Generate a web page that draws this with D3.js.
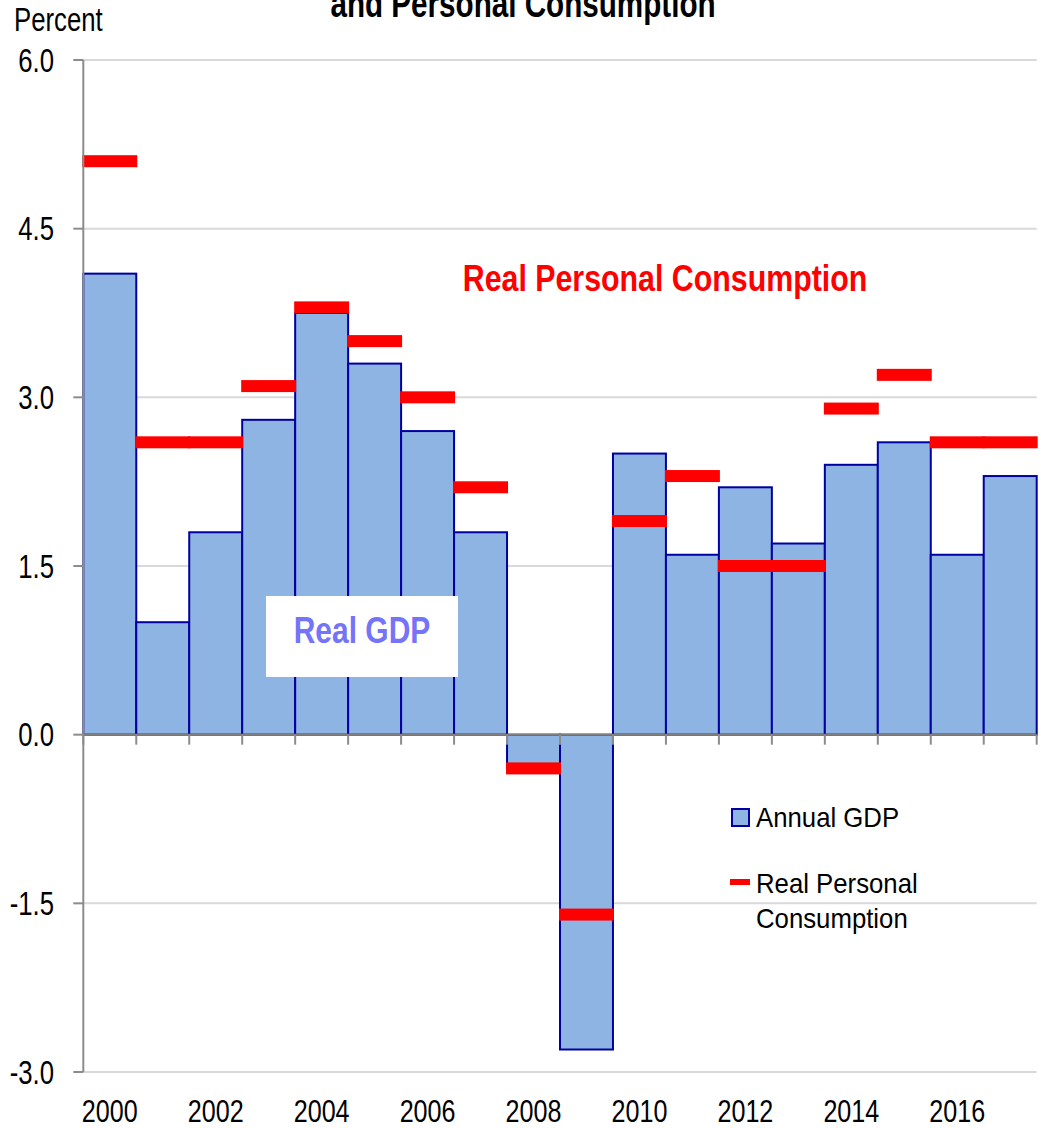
<!DOCTYPE html>
<html>
<head>
<meta charset="utf-8">
<script src="https://cdn.jsdelivr.net/npm/d3@7"></script>
<style>
  html, body { margin: 0; padding: 0; background: #fff; }
  svg { display: block; font-family: Arial, "Liberation Sans", sans-serif; }
</style>
</head>
<body>
<svg id="chart" width="1041" height="1128"></svg>
<script>
const years = [2000,2001,2002,2003,2004,2005,2006,2007,2008,2009,2010,2011,2012,2013,2014,2015,2016,2017];
const gdpGrowth = [4.1,1.0,1.8,2.8,3.75,3.3,2.7,1.8,-0.3,-2.8,2.5,1.6,2.2,1.7,2.4,2.6,1.6,2.3];
const consumptionGrowth = [5.1,2.6,2.6,3.1,3.8,3.5,3.0,2.2,-0.3,-1.6,1.9,2.3,1.5,1.5,2.9,3.2,2.6,2.6];
const yTicks = [-3.0,-1.5,0.0,1.5,3.0,4.5,6.0];
const xTickLabels = [2000,2002,2004,2006,2008,2010,2012,2014,2016];
const titleText = "and Personal Consumption";
const legendLabels = ["Annual GDP", ["Real Personal", "Consumption"]];

const svg = d3.select("#chart");
const plotLeft = 83.3, plotRight = 1036.7, plotTop = 60, plotBottom = 1072;

const x = d3.scaleBand().domain(years).range([plotLeft, plotRight]).padding(0);
const y = d3.scaleLinear().domain([-3, 6]).range([plotBottom, plotTop]);

function sText(parent, tx, ty, str, opts) {
  const g = parent.append("g").attr("transform", `translate(${tx},${ty}) scale(${opts.sx || 1},1)`);
  const t = g.append("text")
    .attr("x", 0).attr("y", 0)
    .attr("text-anchor", opts.anchor || "start")
    .attr("font-size", opts.size)
    .attr("font-weight", opts.weight || "normal")
    .attr("fill", opts.fill || "#000")
    .text(str);
  if (opts.dy) t.attr("dy", opts.dy);
  return t;
}

// gridlines
svg.append("g").selectAll("line").data(yTicks.filter(d => d !== 0)).join("line")
  .attr("x1", plotLeft).attr("x2", plotRight)
  .attr("y1", d => y(d)).attr("y2", d => y(d))
  .attr("stroke", "#d9d9d9").attr("stroke-width", 2);

// bars
svg.append("g").selectAll("rect").data(years).join("rect")
  .attr("x", (d) => x(d))
  .attr("width", x.bandwidth())
  .attr("y", (d, i) => Math.min(y(gdpGrowth[i]), y(0)))
  .attr("height", (d, i) => Math.abs(y(gdpGrowth[i]) - y(0)))
  .attr("fill", "#8eb4e3")
  .attr("stroke", "#0000a0")
  .attr("stroke-width", 2);

// Real GDP label box
svg.append("rect").attr("x", 266).attr("y", 596).attr("width", 192).attr("height", 81).attr("fill", "#fff");
sText(svg, 362, 643, "Real GDP", {size: 37, weight: "bold", anchor: "middle", sx: 0.81, fill: "#7474f8"});

// consumption markers
svg.append("g").selectAll("rect").data(years).join("rect")
  .attr("x", d => x(d) - 1)
  .attr("width", x.bandwidth() + 2)
  .attr("y", (d, i) => y(consumptionGrowth[i]) - 6)
  .attr("height", 12)
  .attr("fill", "#ff0000");

// y axis
const yAxis = svg.append("g");
yAxis.append("line").attr("x1", plotLeft).attr("x2", plotLeft).attr("y1", plotTop).attr("y2", plotBottom)
  .attr("stroke", "#8c8c8c").attr("stroke-width", 2);
yAxis.selectAll("line.tick").data(yTicks).join("line").attr("class", "tick")
  .attr("x1", plotLeft - 10).attr("x2", plotLeft)
  .attr("y1", d => y(d)).attr("y2", d => y(d))
  .attr("stroke", "#8c8c8c").attr("stroke-width", 2);
yTicks.forEach(d => {
  sText(yAxis, 54, y(d), d3.format(".1f")(d).replace("\u2212", "-"), {size: 33, anchor: "end", sx: 0.78, dy: "0.35em"});
});

// x axis at zero
const xAxis = svg.append("g");
xAxis.append("line").attr("x1", plotLeft).attr("x2", plotRight).attr("y1", y(0)).attr("y2", y(0))
  .attr("stroke", "#808080").attr("stroke-width", 2);
const bounds = years.map(d => x(d)).concat([plotRight]);
xAxis.selectAll("line.tick").data(bounds).join("line").attr("class", "tick")
  .attr("x1", d => d).attr("x2", d => d)
  .attr("y1", y(0)).attr("y2", y(0) + 10)
  .attr("stroke", "#8c8c8c").attr("stroke-width", 2);
xTickLabels.forEach(d => {
  sText(xAxis, x(d) + x.bandwidth() / 2, 1122, String(d), {size: 31, anchor: "middle", sx: 0.81});
});

// titles
sText(svg, 14, 31, "Percent", {size: 33, sx: 0.78});
sText(svg, 523, 17, titleText, {size: 38, weight: "bold", anchor: "middle", sx: 0.78});
sText(svg, 665, 291, "Real Personal Consumption", {size: 37, weight: "bold", anchor: "middle", sx: 0.82, fill: "#ff0000"});

// legend
const lg = svg.append("g");
lg.append("rect").attr("x", 732).attr("y", 809).attr("width", 17).attr("height", 17)
  .attr("fill", "#8eb4e3").attr("stroke", "#0000a0").attr("stroke-width", 2);
sText(lg, 756, 827, legendLabels[0], {size: 28, sx: 0.92});
lg.append("rect").attr("x", 730).attr("y", 879).attr("width", 20).attr("height", 6).attr("fill", "#ff0000");
sText(lg, 756, 893, legendLabels[1][0], {size: 28, sx: 0.92});
sText(lg, 756, 928, legendLabels[1][1], {size: 28, sx: 0.92});
</script>
</body>
</html>
